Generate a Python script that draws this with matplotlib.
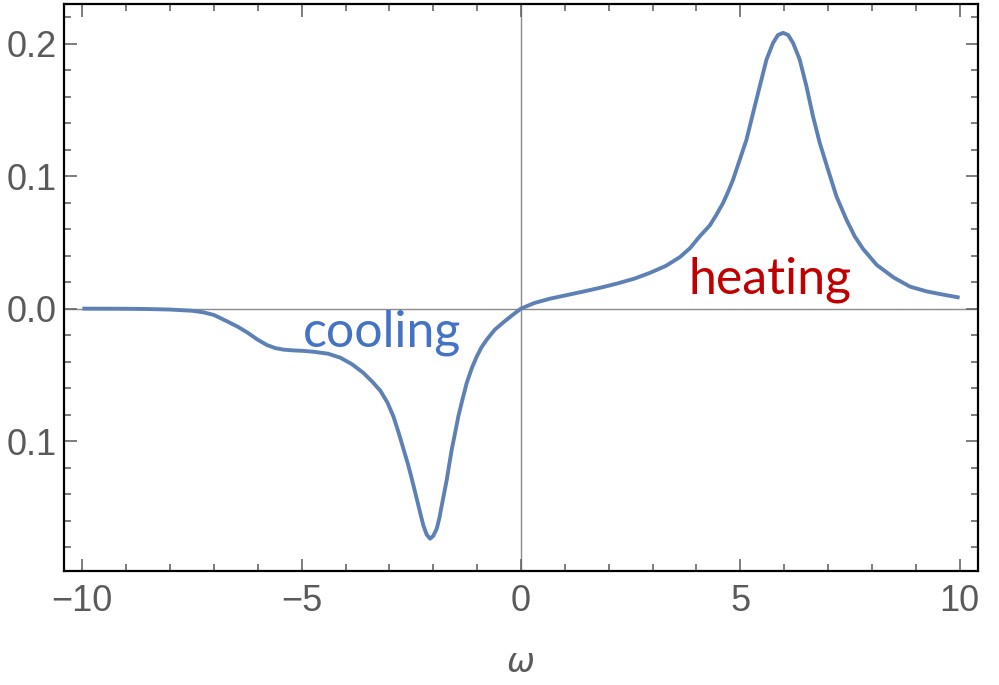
import matplotlib
matplotlib.use("Agg")
import matplotlib.pyplot as plt
from matplotlib.ticker import MultipleLocator, FixedLocator

# points
omega = [-10.0, -9.0, -8.5, -8.0, -7.5, -7.24, -7.0, -6.70, -6.45, -6.24,
         -6.00, -5.79, -5.60, -5.40, -5.20, -5.00, -4.74, -4.40, -4.12, -3.85,
         -3.60, -3.40, -3.21, -3.05, -2.909, -2.80, -2.681, -2.58, -2.49, -2.41,
         -2.339, -2.28, -2.226, -2.15, -2.073, -2.00, -1.92, -1.86, -1.806, -1.75,
         -1.692, -1.635, -1.579, -1.50, -1.428, -1.33, -1.237, -1.12, -1.009, -0.90,
         -0.781, -0.60, -0.41, -0.20, 0.0, 0.30, 0.66, 1.00, 1.41, 1.80,
         2.19, 2.60, 2.94, 3.30, 3.62, 3.85, 4.077, 4.305, 4.45, 4.608,
         4.72, 4.836, 4.989, 5.141, 5.292, 5.444, 5.597, 5.747, 5.86, 5.975,
         6.09, 6.203, 6.355, 6.508, 6.658, 6.811, 7.00, 7.191, 7.419, 7.608,
         7.80, 8.11, 8.50, 8.87, 9.25, 9.62, 10.0]
rate = [0.0, -0.0001, -0.0003, -0.0007, -0.0016, -0.0028, -0.0048, -0.0096, -0.0138, -0.018,
        -0.0235, -0.0275, -0.0298, -0.0310, -0.0315, -0.0318, -0.0325, -0.0340, -0.0370, -0.0420,
        -0.0483, -0.0548, -0.0618, -0.0705, -0.0813, -0.0925, -0.1057, -0.1170, -0.1283, -0.1390,
        -0.1485, -0.1565, -0.1636, -0.1705, -0.1736, -0.1715, -0.1660, -0.1580, -0.1485, -0.1390,
        -0.1291, -0.1175, -0.1064, -0.0935, -0.0813, -0.0680, -0.0561, -0.0448, -0.0362, -0.0292,
        -0.0234, -0.0160, -0.0106, -0.0050, 0.0, 0.0042, 0.0075, 0.0099, 0.0128, 0.0157,
        0.0189, 0.0228, 0.0270, 0.0322, 0.0388, 0.0455, 0.0546, 0.0628, 0.0705, 0.0798,
        0.0880, 0.0974, 0.1125, 0.1275, 0.1477, 0.1678, 0.1879, 0.2005, 0.2065, 0.2081,
        0.2065, 0.2005, 0.1879, 0.1678, 0.1451, 0.1251, 0.1049, 0.0848, 0.0672, 0.0546,
        0.0450, 0.0330, 0.0234, 0.0166, 0.0130, 0.0106, 0.0083]

xticks = [-10, -5, 0, 5, 10]
xticklabels = ["\u221210", "\u22125", "0", "5", "10"]
yticks = [-0.1, 0.0, 0.1, 0.2]
yticklabels = ["0.1", "0.0", "0.1", "0.2"]   # as in the original: no minus on the lower label

fig = plt.figure(figsize=(9.99, 6.85), dpi=100)
ax = fig.add_axes([0.064, 0.1664, 0.915, 0.828])

ax.axhline(0, color="#8a8a8a", lw=1.0, zorder=1)
ax.axvline(0, color="#8a8a8a", lw=1.0, zorder=1)
ax.plot(omega, rate, "-", color="#5E81B5", lw=2.8, zorder=3,
        solid_capstyle="butt", solid_joinstyle="round")

ax.set_xlim(-10.42, 10.42)
ax.set_ylim(-0.198, 0.230)

ax.xaxis.set_major_locator(FixedLocator(xticks))
ax.set_xticklabels(xticklabels)
ax.xaxis.set_minor_locator(MultipleLocator(1))
ax.yaxis.set_major_locator(FixedLocator(yticks))
ax.set_yticklabels(yticklabels)
ax.yaxis.set_minor_locator(MultipleLocator(0.02))

ax.tick_params(which="both", direction="in", top=True, right=True,
               color="#666666", width=1.2)
ax.tick_params(which="major", length=9, labelsize=26, labelcolor="#5a5a5a")
ax.tick_params(axis="y", which="major", pad=5)
ax.tick_params(axis="x", which="major", pad=9)
ax.tick_params(which="minor", length=5)
for lab in ax.get_xticklabels() + ax.get_yticklabels():
    lab.set_family("Liberation Sans")

for s in ax.spines.values():
    s.set_linewidth(1.6)
    s.set_color("black")

ax.set_xlabel("\u03c9", fontsize=24, color="#5a5a5a", style="italic",
              family="DejaVu Sans", labelpad=20)

ax.text(-3.17, -0.018, "cooling", color="#4472C4", fontsize=36,
        family="Lato", ha="center", va="center")
ax.text(5.69, 0.0219, "heating", color="#C00000", fontsize=36,
        family="Lato", ha="center", va="center")

fig.savefig("out.png", dpi=100)
